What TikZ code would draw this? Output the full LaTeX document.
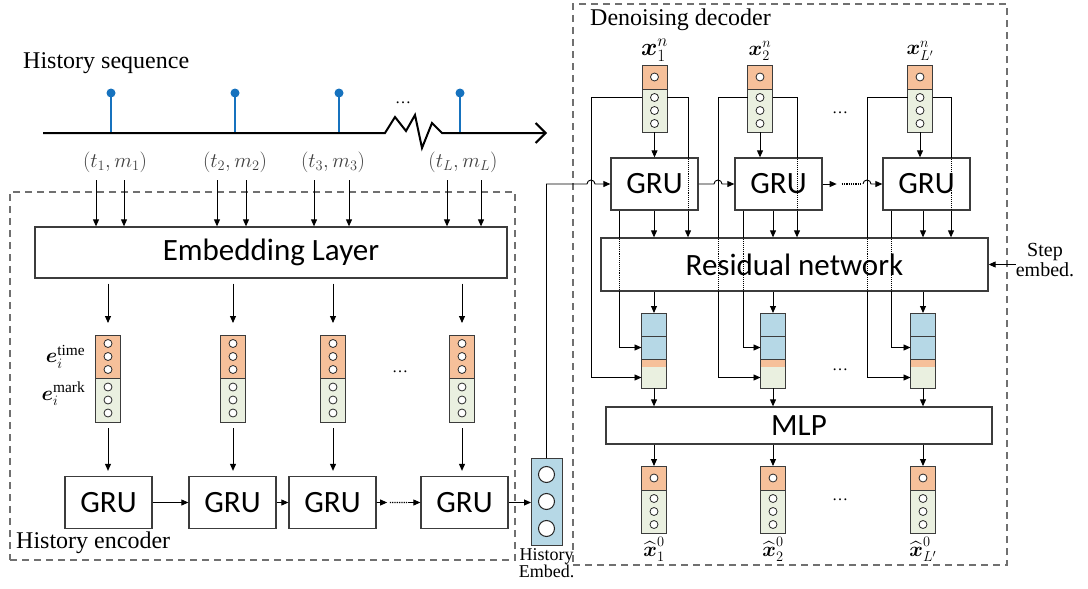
\documentclass[tikz,border=0pt]{standalone}
\usepackage{amsmath}
\usepackage{fontspec}
\setmainfont{Liberation Serif}
\setsansfont{Carlito}
\usetikzlibrary{arrows.meta,positioning,calc}

\definecolor{timefill}{RGB}{246,192,154}
\definecolor{markfill}{RGB}{234,240,224}
\definecolor{hidfill}{RGB}{182,216,230}
\definecolor{eventblue}{RGB}{22,114,190}
\definecolor{framegray}{RGB}{112,112,112}
\definecolor{boxgray}{RGB}{60,60,60}
\newcommand{\sanslab}{\fontsize{31}{36}\selectfont\sffamily}
\newcommand{\seriflab}{\fontsize{24}{26}\selectfont}

\begin{document}
\begin{tikzpicture}[
  x=1pt,y=-1pt,
  gru/.style={draw=boxgray,line width=1.3pt,fill=white,minimum width=87pt,
    minimum height=52pt,inner sep=0pt,font=\sanslab},
  wide/.style={draw=boxgray,line width=1.3pt,fill=white,inner sep=0pt,font=\sanslab},
  cell/.style={draw=boxgray,line width=1pt,minimum width=25pt,inner sep=0pt,outer sep=0pt},
  tcell/.style={cell,fill=timefill},
  mcell/.style={cell,fill=markfill},
  hcell/.style={cell,fill=hidfill},
  ring/.style={circle,draw=black!85,fill=white,line width=0.8pt,inner sep=0pt,minimum size=8pt},
  bigring/.style={ring,minimum size=16pt,line width=1pt},
  arr/.style={-{Triangle[length=7pt,width=6pt]},line width=0.9pt},
  wire/.style={line width=0.9pt},
  thru/.style={densely dotted,line width=0.9pt},
  groupframe/.style={draw=framegray,dash pattern=on 7pt off 5pt,line width=1.5pt,inner sep=0pt},
  grouplabel/.style={anchor=west,font=\seriflab,inner sep=0pt},
  pairlab/.style={font=\fontsize{20.5}{21}\selectfont,text=black!75},
  elab/.style={font=\fontsize{22}{22}\selectfont,inner sep=0pt},
  ellip/.style={font=\fontsize{16}{16}\selectfont,inner sep=0pt}
]
\useasboundingbox (0,0) rectangle (1088,589);

% group frames
\node[groupframe,minimum width=505pt,minimum height=368pt] (enc) at (262.5,376) {};
\node[groupframe,minimum width=434pt,minimum height=561pt] (dec) at (790,284.5) {};
\node[grouplabel] (enclab) at (16,543) {History encoder};
\node[grouplabel] (declab) at (590,20) {Denoising decoder};

% history sequence
\node[grouplabel] (seqlab) at (23,63) {History sequence};
\foreach \i/\x in {1/111,2/235,3/339,4/460}{
  \node[circle,fill=eventblue,inner sep=0pt,minimum size=9pt] (ev\i) at (\x,93) {};
  \draw[eventblue,line width=2pt] (ev\i.center) -- (\x,133);
}
\coordinate (tstart) at (43,133);
\coordinate (tend) at (547,133);
\draw[line width=2pt,-{Straight Barb[length=10pt,width=20pt,line width=2pt]}]
  (tstart) -- (385,133) -- (395,117) -- (406,131) -- (415,115) -- (422,148)
  -- (432,123) -- (442,133) -- (tend);
\node[ellip] (seqdots) at (403,103) {\ldots};
\node[pairlab] (pr1) at (115,162) {$(t_1,m_1)$};
\node[pairlab] (pr2) at (235,162) {$(t_2,m_2)$};
\node[pairlab] (pr3) at (333,162) {$(t_3,m_3)$};
\node[pairlab] (pr4) at (463,162) {$(t_L,m_L)$};

% history encoder
\node[wide,minimum width=472pt,minimum height=51pt] (emb) at (271,252.5) {Embedding Layer};
\foreach \x in {96,124,217,246,314,349,447,481}
  \draw[arr] (\x,180) coordinate (ain) -- (ain |- emb.north);
\foreach \i/\x in {1/108,2/233,3/333,4/462}{
  \node[tcell,minimum height=43pt] (et\i) at (\x,356.5) {};
  \node[mcell,minimum height=44pt,below=0pt of et\i] (em\i) {};
  \foreach \d in {-13,0,13}{
    \node[ring] at ([yshift=\d pt]et\i.center) {};
    \node[ring] at ([yshift=\d pt]em\i.center) {};
  }
  \draw[arr,shorten <=5pt,shorten >=12pt] (emb.south -| et\i) -- (et\i.north);
}
\node[elab,left=10pt of et1] (elt) {$\boldsymbol{e}_i^{\mathrm{time}}$};
\node[elab,left=10pt of em1,yshift=6pt] (elm) {$\boldsymbol{e}_i^{\mathrm{mark}}$};
\node[ellip] (encdots) at (400,372) {\ldots};

\foreach \i/\x in {1/108.5,2/232.5,3/332.5,4/464.5}{
  \node[gru] (eg\i) at (\x,502.5) {GRU};
  \draw[arr,shorten <=6pt,shorten >=5pt] (em\i.south) -- (em\i.south |- eg\i.north);
}
\draw[arr] (eg1) -- (eg2);
\draw[arr] (eg2) -- (eg3);
\draw[arr] (eg3.east) -- ($(eg3.east)!0.24!(eg4.west)$);
\draw[thru,line width=1.3pt] ($(eg3.east)!0.3!(eg4.west)$) -- ($(eg3.east)!0.72!(eg4.west)$);
\draw[arr] ($(eg3.east)!0.72!(eg4.west)$) -- (eg4.west);

% history embedding
\node[hcell,minimum width=31pt,minimum height=87pt] (hemb) at (546.5,501.5) {};
\foreach \d in {-27,0,27}
  \node[bigring] at ([yshift=\d pt]hemb.center) {};
\draw[arr] (eg4.east) -- (eg4.east -| hemb.west);
\node[font=\fontsize{18}{16}\selectfont,align=center,inner sep=0pt,below=3pt of hemb]
  (hemblab) {History\\Embed.};

% denoising decoder
\foreach \i/\x in {1/654.5,2/760,3/920}{
  \node[tcell,minimum height=24pt] (dt\i) at (\x,77) {};
  \node[mcell,minimum height=43pt,below=0pt of dt\i] (dm\i) {};
  \node[ring] at (dt\i.center) {};
  \foreach \d in {-13,0,13}
    \node[ring] at ([yshift=\d pt]dm\i.center) {};
}
\node[font=\fontsize{26}{26}\selectfont,above=0pt of dt1] (xl1) {$\boldsymbol{x}_1^n$};
\node[font=\fontsize{20}{20}\selectfont,above=1pt of dt2] (xl2) {$\boldsymbol{x}_2^n$};
\node[font=\fontsize{20}{20}\selectfont,above=1pt of dt3] (xl3) {$\boldsymbol{x}_{L'}^n$};
\node[ellip] (indots) at (840,113) {\ldots};

\foreach \i/\x in {1/654.5,2/778.5,3/926.5}{
  \node[gru] (dg\i) at (\x,184) {GRU};
  \draw[arr] (dm\i.south) -- (dm\i.south |- dg\i.north);
}
\node[wide,minimum width=387pt,minimum height=53pt] (res) at (794.5,264.5) {Residual network};

\foreach \i/\x in {1/654,2/773,3/923}{
  \node[hcell,minimum height=23pt] (hu\i) at (\x,324.5) {};
  \node[hcell,minimum height=23pt,below=0pt of hu\i] (hl\i) {};
  \node[cell,draw=none,fill=timefill,minimum height=8pt,below=0pt of hl\i] (ho\i) {};
  \node[cell,draw=none,fill=markfill,minimum height=21pt,below=0pt of ho\i] (hg\i) {};
  \draw[boxgray,line width=1pt] (hl\i.south west) rectangle (hg\i.south east);
}
\node[ellip] (hiddots) at (840,370) {\ldots};

\node[wide,minimum width=386pt,minimum height=37pt] (mlp) at (799,425.5) {MLP};

\foreach \i/\x in {1/654,2/773,3/923}{
  \node[tcell,minimum height=24pt] (yt\i) at (\x,478) {};
  \node[mcell,minimum height=43pt,below=0pt of yt\i] (ym\i) {};
  \node[ring] at (yt\i.center) {};
  \foreach \d in {-13,0,13}
    \node[ring] at ([yshift=\d pt]ym\i.center) {};
}
\node[font=\fontsize{21}{21}\selectfont,below=1pt of ym1] (yl1) {$\widehat{\boldsymbol{x}}_1^0$};
\node[font=\fontsize{21}{21}\selectfont,below=1pt of ym2] (yl2) {$\widehat{\boldsymbol{x}}_2^0$};
\node[font=\fontsize{21}{21}\selectfont,below=1pt of ym3] (yl3) {$\widehat{\boldsymbol{x}}_{L'}^0$};
\node[ellip] (outdots) at (840,500) {\ldots};

\node[font=\fontsize{20}{17}\selectfont,align=center,inner sep=0pt] (stepemb) at (1045,260) {Step\\embed.};
\draw[arr] (stepemb.west |- res.east) -- (res.east);

% skip connections
\coordinate (sl1) at (591,97);
\coordinate (sl2) at (718,97);
\coordinate (sl3) at (867,97);
\coordinate (sr1) at (688,97);
\coordinate (sr2) at (797,97);
\coordinate (sr3) at (951,97);
\draw[arr] ([yshift=-8pt]dm1.north west) -- (sl1) |- (hg1.west);
\foreach \i in {2,3}{
  \draw[wire] ([yshift=-8pt]dm\i.north west) -- (sl\i) -- (sl\i |- res.north);
  \draw[thru] (sl\i |- res.north) -- (sl\i |- res.south);
  \draw[arr] (sl\i |- res.south) |- (hg\i.west);
}
\foreach \i in {1,2,3}{
  \draw[wire] ([yshift=-8pt]dm\i.north east) -- (sr\i) -- (sr\i |- dg\i.north);
  \draw[thru] (sr\i |- dg\i.north) -- (sr\i |- dg\i.south);
  \draw[arr] (sr\i |- dg\i.south) -- (sr\i |- res.north);
  \coordinate (sb\i) at ([xshift=9pt]dg\i.south west);
  \draw[wire] (sb\i) -- (sb\i |- res.north);
  \draw[thru] (sb\i |- res.north) -- (sb\i |- res.south);
  \draw[arr] (sb\i |- res.south) |- (hl\i.west);
  \draw[arr] (dg\i.south -| hu\i) -- (res.north -| hu\i);
  \draw[arr] (res.south -| hu\i) -- (hu\i.north);
  \draw[arr] (hg\i.south) -- (hg\i.south |- mlp.north);
  \draw[arr] (mlp.south -| yt\i) -- (yt\i.north);
}

% recurrent chain of the decoder
\draw[arr] (hemb.north) |- ($(sl1 |- dg1.west)+(-4,0)$)
  arc[start angle=180,end angle=0,radius=4pt] -- (dg1.west);
\draw[arr] (dg1.east) -- ($(sl2 |- dg1.east)+(-4,0)$)
  arc[start angle=180,end angle=0,radius=4pt] -- (dg2.west);
\draw[arr] (dg2.east) -- ++(14,0);
\draw[thru,line width=1.3pt] ($(dg2.east)+(19,0)$) -- ($(sl3 |- dg3.west)+(-6,0)$);
\draw[arr] ($(sl3 |- dg3.west)+(-4,0)$)
  arc[start angle=180,end angle=0,radius=4pt] -- (dg3.west);
\end{tikzpicture}
\end{document}
